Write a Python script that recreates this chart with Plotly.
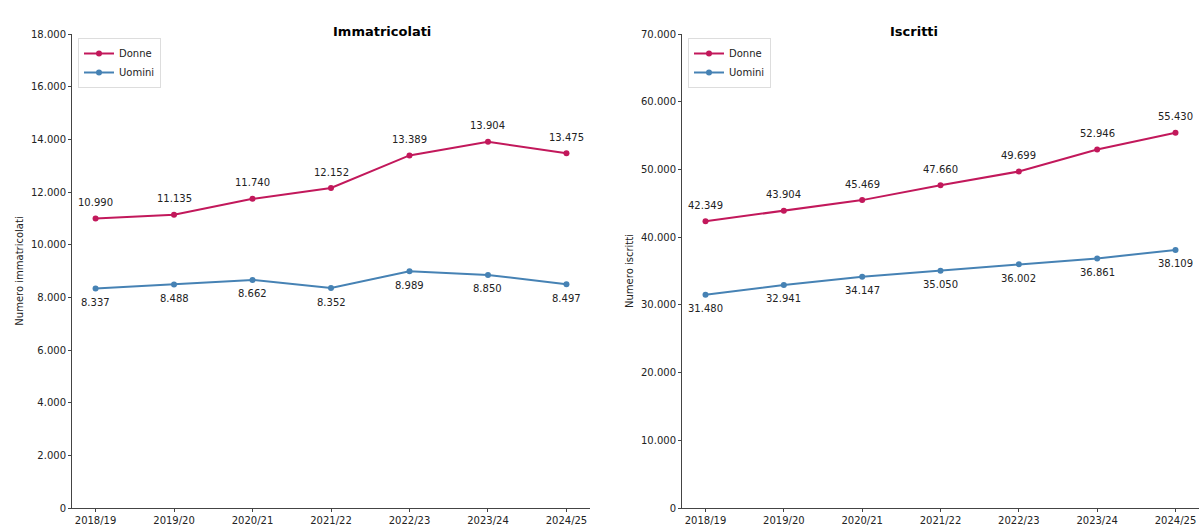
import plotly.graph_objects as go

anni = ["2018/19", "2019/20", "2020/21", "2021/22", "2022/23", "2023/24", "2024/25"]
imm_donne = [10990, 11135, 11740, 12152, 13389, 13904, 13475]
imm_uomini = [8337, 8488, 8662, 8352, 8989, 8850, 8497]
isc_donne = [42349, 43904, 45469, 47660, 49699, 52946, 55430]
isc_uomini = [31480, 32941, 34147, 35050, 36002, 36861, 38109]

C_D = "#c2185b"
C_U = "#4682b4"
FONT = "DejaVu Sans"

fig = go.Figure()

def add(xa, ya, donne, uomini, lg):
    fig.add_trace(go.Scatter(x=anni, y=donne, name="Donne", mode="lines+markers",
                             line=dict(color=C_D, width=2), marker=dict(size=6, color=C_D),
                             xaxis=xa, yaxis=ya, legend=lg))
    fig.add_trace(go.Scatter(x=anni, y=uomini, name="Uomini", mode="lines+markers",
                             line=dict(color=C_U, width=2), marker=dict(size=6, color=C_U),
                             xaxis=xa, yaxis=ya, legend=lg))
    for a, v in zip(anni, donne):
        fig.add_annotation(x=a, y=v, xref=xa, yref=ya, text=f"{v:,}".replace(",", "."),
                           showarrow=False, yshift=16, font=dict(size=10, color="#222", family=FONT))
    for a, v in zip(anni, uomini):
        fig.add_annotation(x=a, y=v, xref=xa, yref=ya, text=f"{v:,}".replace(",", "."),
                           showarrow=False, yshift=-14, font=dict(size=10, color="#222", family=FONT))

add("x", "y", imm_donne, imm_uomini, "legend")
add("x2", "y2", isc_donne, isc_uomini, "legend2")

ax_common = dict(showline=True, linecolor="#444", linewidth=1, ticks="outside", ticklen=3,
                 tickcolor="#444", showgrid=False, zeroline=False, automargin=False,
                 tickfont=dict(size=10, family=FONT, color="#222"))

yb, yt = 17 / 525, 1 - 34 / 525

fig.update_layout(
    width=1201, height=525,
    margin=dict(l=0, r=0, t=0, b=0, autoexpand=False),
    plot_bgcolor="white", paper_bgcolor="white",
    separators=",.",
    font=dict(family=FONT, size=10, color="#222"),
    xaxis=dict(domain=[72 / 1201, 590 / 1201], range=[-0.3, 6.3], anchor="y", **ax_common),
    yaxis=dict(domain=[yb, yt], range=[0, 18000], dtick=2000, tickformat=",d", anchor="x",
               title=dict(text="Numero immatricolati", font=dict(size=10, family=FONT), standoff=5),
               **ax_common),
    xaxis2=dict(domain=[682 / 1201, 1199 / 1201], range=[-0.3, 6.3], anchor="y2", **ax_common),
    yaxis2=dict(domain=[yb, yt], range=[0, 70000], dtick=10000, tickformat=",d", anchor="x2",
                title=dict(text="Numero iscritti", font=dict(size=10, family=FONT), standoff=5),
                **ax_common),
    legend=dict(x=78 / 1201, y=1 - 38 / 525, xanchor="left", yanchor="top",
                bordercolor="#ddd", borderwidth=1, bgcolor="white",
                font=dict(size=10, family=FONT), tracegroupgap=0, itemwidth=30),
    legend2=dict(x=688 / 1201, y=1 - 38 / 525, xanchor="left", yanchor="top",
                 bordercolor="#ddd", borderwidth=1, bgcolor="white",
                 font=dict(size=10, family=FONT), tracegroupgap=0, itemwidth=30),
    showlegend=True,
)

fig.add_annotation(x=331 / 1201, y=1 - 22 / 525, xref="paper", yref="paper", text="<b>Immatricolati</b>",
                   showarrow=False, font=dict(size=13, family=FONT, color="#000"))
fig.add_annotation(x=940 / 1201, y=1 - 22 / 525, xref="paper", yref="paper", text="<b>Iscritti</b>",
                   showarrow=False, font=dict(size=13, family=FONT, color="#000"))

fig.write_html("out.html", config={"displayModeBar": False},
               post_script="document.body.style.margin='0';document.body.style.overflow='hidden';")
